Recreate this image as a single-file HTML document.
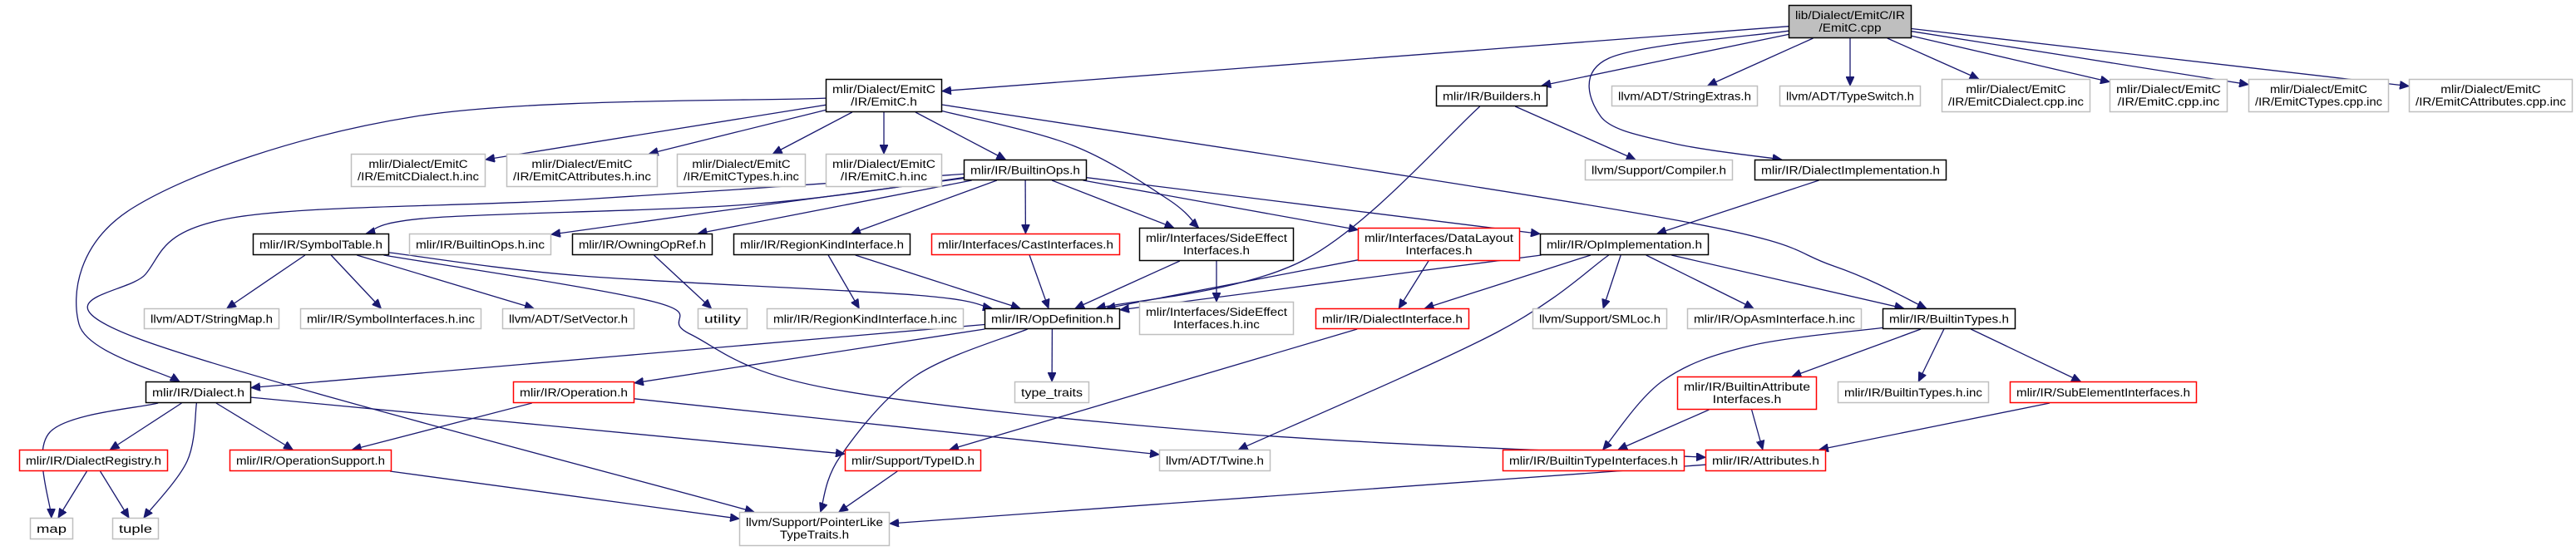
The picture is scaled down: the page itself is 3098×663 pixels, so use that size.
<!DOCTYPE html>
<html><head><meta charset="utf-8"><style>
html,body{margin:0;padding:0;background:#fff;}
svg{display:block;}
text{font-family:"Liberation Sans",sans-serif;font-size:13.5px;fill:#000;}
</style></head><body>
<svg id="g" width="3098" height="663" viewBox="0 0 3098 663" xmlns="http://www.w3.org/2000/svg">
<defs><marker id="ah" markerUnits="userSpaceOnUse" markerWidth="12" markerHeight="10" refX="11" refY="5" orient="auto"><path d="M0,0 L11,5 L0,10 z" fill="#191970" stroke="#191970"/></marker></defs>
<g id="edges"></g>
<g id="nodes"></g>
</svg>
<script>
const nodeIds=["cpp","emitch","builders","strext","typeswitch","dcppinc","ecppinc","tcppinc","acppinc",
"dhinc","ahinc","thinc","ehinc","builtinops","compiler","dialimpl",
"symtab","bopsinc","owning","regionkind","cast","sideeff","datalayout","opimpl",
"strmap","symifinc","setvec","utility","rkinc","opdef","seinc","dialif","smloc","opasm","btypes",
"dialect","operation","typetraits","battrif","btinc","subel",
"dreg","opsupp","typeid","twine","btypeif","attrs",
"map","tuple","ptrlike"];
const nodeLabels=[["lib/Dialect/EmitC/IR","/EmitC.cpp"],["mlir/Dialect/EmitC","/IR/EmitC.h"],["mlir/IR/Builders.h"],["llvm/ADT/StringExtras.h"],["llvm/ADT/TypeSwitch.h"],["mlir/Dialect/EmitC","/IR/EmitCDialect.cpp.inc"],["mlir/Dialect/EmitC","/IR/EmitC.cpp.inc"],["mlir/Dialect/EmitC","/IR/EmitCTypes.cpp.inc"],["mlir/Dialect/EmitC","/IR/EmitCAttributes.cpp.inc"],
["mlir/Dialect/EmitC","/IR/EmitCDialect.h.inc"],["mlir/Dialect/EmitC","/IR/EmitCAttributes.h.inc"],["mlir/Dialect/EmitC","/IR/EmitCTypes.h.inc"],["mlir/Dialect/EmitC","/IR/EmitC.h.inc"],["mlir/IR/BuiltinOps.h"],["llvm/Support/Compiler.h"],["mlir/IR/DialectImplementation.h"],
["mlir/IR/SymbolTable.h"],["mlir/IR/BuiltinOps.h.inc"],["mlir/IR/OwningOpRef.h"],["mlir/IR/RegionKindInterface.h"],["mlir/Interfaces/CastInterfaces.h"],["mlir/Interfaces/SideEffect","Interfaces.h"],["mlir/Interfaces/DataLayout","Interfaces.h"],["mlir/IR/OpImplementation.h"],
["llvm/ADT/StringMap.h"],["mlir/IR/SymbolInterfaces.h.inc"],["llvm/ADT/SetVector.h"],["utility"],["mlir/IR/RegionKindInterface.h.inc"],["mlir/IR/OpDefinition.h"],["mlir/Interfaces/SideEffect","Interfaces.h.inc"],["mlir/IR/DialectInterface.h"],["llvm/Support/SMLoc.h"],["mlir/IR/OpAsmInterface.h.inc"],["mlir/IR/BuiltinTypes.h"],
["mlir/IR/Dialect.h"],["mlir/IR/Operation.h"],["type_traits"],["mlir/IR/BuiltinAttribute","Interfaces.h"],["mlir/IR/BuiltinTypes.h.inc"],["mlir/IR/SubElementInterfaces.h"],
["mlir/IR/DialectRegistry.h"],["mlir/IR/OperationSupport.h"],["mlir/Support/TypeID.h"],["llvm/ADT/Twine.h"],["mlir/IR/BuiltinTypeInterfaces.h"],["mlir/IR/Attributes.h"],
["map"],["tuple"],["llvm/Support/PointerLike","TypeTraits.h"]];
const nodeBoxes=[[2151,6,2299,46],[993,95,1133,135],[1727,103,1861,128],[1938,103,2114,128],[2140,103,2310,128],[2335,95,2514,135],[2537,95,2679,135],[2704,95,2873,135],[2897,95,3094,135],
[422,185,584,225],[609,185,791,225],[814,185,969,225],[993,185,1133,225],[1159,192,1307,217],[1906,192,2084,217],[2110,192,2341,217],
[304,281,468,307],[492,281,663,307],[688,281,857,307],[882,281,1095,307],[1120,281,1347,307],[1370,274,1556,314],[1633,274,1828,314],[1852,281,2055,307],
[173,371,336,396],[361,371,579,396],[604,371,763,396],[839,371,899,396],[922,371,1159,396],[1184,371,1347,396],[1370,363,1556,403],[1582,371,1767,396],[1843,371,2005,396],[2029,371,2239,396],[2264,371,2424,396],
[175,459,302,485],[617,459,763,485],[1220,459,1310,485],[2017,453,2185,493],[2210,459,2392,485],[2417,459,2642,485],
[23,541,202,567],[276,541,471,567],[1016,541,1180,567],[1394,541,1528,567],[1807,541,2026,567],[2051,541,2196,567],
[36,623,88,649],[135,623,191,649],[889,616,1070,657]];
const nodeKinds=["root","ok","ok","leaf","leaf","leaf","leaf","leaf","leaf",
"leaf","leaf","leaf","leaf","ok","leaf","ok",
"ok","leaf","ok","ok","trunc","ok","trunc","ok",
"leaf","leaf","leaf","leaf","leaf","ok","leaf","trunc","leaf","leaf","ok",
"ok","trunc","leaf","trunc","leaf","trunc",
"trunc","trunc","trunc","leaf","trunc","trunc",
"leaf","leaf","leaf"];
const edgeFrom=["cpp","cpp","cpp","cpp","cpp","cpp","cpp","cpp","cpp",
"emitch","emitch","emitch","emitch","emitch","emitch","emitch","emitch",
"builders","builders","dialimpl",
"builtinops","builtinops","builtinops","builtinops","builtinops","builtinops","builtinops","builtinops","builtinops",
"symtab","symtab","symtab","symtab","symtab","owning","regionkind","regionkind","cast","sideeff","sideeff","datalayout","datalayout",
"opimpl","opimpl","opimpl","opimpl","opimpl","opimpl",
"opdef","opdef","opdef","opdef",
"btypes","btypes","btypes","btypes","battrif","battrif","subel",
"dialect","dialect","dialect","dialect","dialect","operation","operation","dialif",
"dreg","dreg","opsupp","typeid","attrs"];
const edgeTo=["emitch","builders","strext","typeswitch","dcppinc","ecppinc","tcppinc","acppinc","dialimpl",
"dhinc","ahinc","thinc","ehinc","builtinops","sideeff","btypes","dialect",
"compiler","opdef","opimpl",
"symtab","bopsinc","owning","regionkind","cast","sideeff","datalayout","opimpl","ptrlike",
"strmap","symifinc","setvec","opdef","attrs","utility","rkinc","opdef","opdef","opdef","seinc","opdef","dialif",
"opdef","dialif","smloc","opasm","btypes","twine",
"dialect","operation","typetraits","ptrlike",
"battrif","btinc","subel","btypeif","btypeif","attrs","attrs",
"map","dreg","tuple","opsupp","typeid","opsupp","twine","typeid",
"map","tuple","ptrlike","ptrlike","ptrlike"];
const edgeVia={
"cpp>dialimpl":[[1935,70],[1925,140],[2010,172]],
"emitch>dialect":[[500,140],[160,250],[95,390]],
"emitch>sideeff":[[1290,175],[1405,240]],
"emitch>btypes":[[2000,262],[2205,320]],
"builders>opdef":[[1570,312]],
"builtinops>symtab":[[900,246],[520,262]],
"builtinops>bopsinc":[[850,256]],
"builtinops>ptrlike":[[700,240],[280,262],[175,330],[160,405]],
"symtab>opdef":[[700,332],[1100,355]],
"symtab>attrs":[[786,363],[830,402],[1000,468],[1491,522]],
"opdef>ptrlike":[[1100,453],[1010,550]],
"opimpl>twine":[[1800,400]],
"btypes>btypeif":[[2105,416],[2000,458]],
"dialect>map":[[60,520]],
"dialect>tuple":[[225,555]]
};
const E=document.getElementById('edges'),N=document.getElementById('nodes'),NS="http://www.w3.org/2000/svg";
function box(id){return nodeBoxes[nodeIds.indexOf(id)];}
function ctr(b){return [(b[0]+b[2])/2,(b[1]+b[3])/2];}
function clip(b,from,toward){
 const c=ctr(b),dx=toward[0]-c[0],dy=toward[1]-c[1];
 const hw=(b[2]-b[0])/2,hh=(b[3]-b[1])/2;
 const t=Math.min(dx?hw/Math.abs(dx):1e9,dy?hh/Math.abs(dy):1e9);
 return [c[0]+dx*t,c[1]+dy*t];
}
for(let i=0;i<edgeFrom.length;i++){
 const a=box(edgeFrom[i]),b=box(edgeTo[i]),via=edgeVia[edgeFrom[i]+">"+edgeTo[i]]||[];
 const pts=[];
 const first=via.length?via[0]:ctr(b),last=via.length?via[via.length-1]:ctr(a);
 pts.push(clip(a,null,first));via.forEach(p=>pts.push(p));pts.push(clip(b,null,last));
 let d="M"+pts[0][0].toFixed(1)+","+pts[0][1].toFixed(1);
 for(let k=0;k<pts.length-1;k++){
  const p0=pts[Math.max(0,k-1)],p1=pts[k],p2=pts[k+1],p3=pts[Math.min(pts.length-1,k+2)];
  const c1=[p1[0]+(p2[0]-p0[0])/6,p1[1]+(p2[1]-p0[1])/6],c2=[p2[0]-(p3[0]-p1[0])/6,p2[1]-(p3[1]-p1[1])/6];
  d+=" C"+c1.map(v=>v.toFixed(1))+" "+c2.map(v=>v.toFixed(1))+" "+p2.map(v=>v.toFixed(1));
 }
 const p=document.createElementNS(NS,'path');
 p.setAttribute('d',d);p.setAttribute('fill','none');p.setAttribute('stroke','#191970');p.setAttribute('stroke-width','1.3');p.setAttribute('marker-end','url(#ah)');
 
 
 E.appendChild(p);
}
for(let i=0;i<nodeIds.length;i++){
 const b=nodeBoxes[i],k=nodeKinds[i],g=document.createElementNS(NS,'g');
 
 
 const r=document.createElementNS(NS,'rect');
 r.setAttribute('x',b[0]+0.5);r.setAttribute('y',b[1]+0.5);r.setAttribute('width',b[2]-b[0]-1);r.setAttribute('height',b[3]-b[1]-1);
 r.setAttribute('fill',k==='root'?'#bfbfbf':'#fff');
 r.setAttribute('stroke',k==='trunc'?'#ff0000':k==='leaf'?'#bfbfbf':'#000');
 r.setAttribute('stroke-width','1.5');
 g.appendChild(r);
 const L=nodeLabels[i],cx=(b[0]+b[2])/2;
 const ts=[];
 L.forEach((s,j)=>{const t=document.createElementNS(NS,'text');t.textContent=s;t.setAttribute('x',cx);t.setAttribute('text-anchor','middle');
  t.setAttribute('y',L.length===1?(b[1]+b[3])/2+5:b[1]+17+j*15);g.appendChild(t);ts.push(t);});
 N.appendChild(g);
 const avail=b[2]-b[0]-16;let maxw=0;ts.forEach(t=>maxw=Math.max(maxw,t.getComputedTextLength()));
 const sc=avail/maxw;
 ts.forEach(t=>{const w=t.getComputedTextLength();t.setAttribute('textLength',(w*sc).toFixed(1));t.setAttribute('lengthAdjust','spacingAndGlyphs');});
}
</script>
</body></html>
